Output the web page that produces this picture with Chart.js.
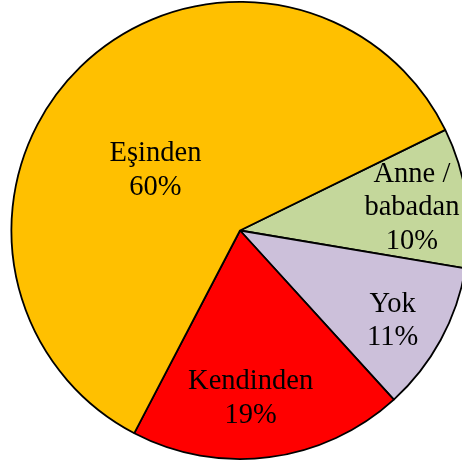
<!DOCTYPE html>
<html>
<head>
<meta charset="utf-8">
<script src="https://cdn.jsdelivr.net/npm/chart.js@4/dist/chart.umd.min.js"></script>
<style>
  html, body { margin: 0; padding: 0; background: #fff; overflow: hidden; }
  #wrap { position: absolute; left: 0; top: 0; width: 480px; height: 463px; }
</style>
</head>
<body>
<div id="wrap"><canvas id="c" width="480" height="463"></canvas></div>
<script>
// Categories (multi-line labels) and values (percent shares)
const categories = [['Anne /', 'babadan'], ['Yok'], ['Kendinden'], ['Eşinden']];
const values = [9.9, 10.6, 19.4, 60.1];
const colors = ['#C4D79B', '#CCC0DA', '#FF0000', '#FFC000'];

const labelPlugin = {
  id: 'sliceLabels',
  afterDatasetsDraw(chart, args, opts) {
    const ctx = chart.ctx;
    const meta = chart.getDatasetMeta(0);
    const data = chart.data.datasets[0].data;
    const total = data.reduce((a, b) => a + b, 0);
    ctx.save();
    ctx.fillStyle = '#000';
    ctx.font = opts.font;
    ctx.textAlign = 'center';
    ctx.textBaseline = 'alphabetic';
    meta.data.forEach((arc, i) => {
      const p = arc.getProps(['x', 'y', 'startAngle', 'endAngle', 'outerRadius'], true);
      const mid = (p.startAngle + p.endAngle) / 2 + (opts.angleShift[i] || 0) * Math.PI / 180;
      const r = p.outerRadius * opts.radius[i];
      const cx = p.x + Math.cos(mid) * r;
      const cy = p.y + Math.sin(mid) * r;
      const lbl = chart.data.labels[i];
      const lines = (Array.isArray(lbl) ? lbl.slice() : [lbl]);
      lines.push(Math.round(data[i] / total * 100) + '%');
      const n = lines.length;
      lines.forEach((t, k) => {
        const y = cy + (k - (n - 1) / 2) * opts.lineHeight + opts.baselineOffset;
        ctx.fillText(t, cx, y);
      });
    });
    ctx.restore();
  }
};

new Chart(document.getElementById('c'), {
  type: 'pie',
  data: {
    labels: categories,
    datasets: [{
      data: values,
      backgroundColor: colors,
      borderColor: '#000',
      borderWidth: 1.8
    }]
  },
  options: {
    responsive: false,
    animation: false,
    rotation: 63.9,
    layout: { padding: { top: 1, bottom: 3, left: 10, right: 10 } },
    plugins: {
      legend: { display: false },
      tooltip: { enabled: false },
      sliceLabels: {
        font: '28.5px "Liberation Serif", "Times New Roman", serif',
        lineHeight: 33.5,
        baselineOffset: 10,
        radius: [0.76, 0.77, 0.725, 0.46],
        angleShift: [0, 1.3, 3.7, -9.2]
      }
    }
  },
  plugins: [labelPlugin]
});
</script>
</body>
</html>
